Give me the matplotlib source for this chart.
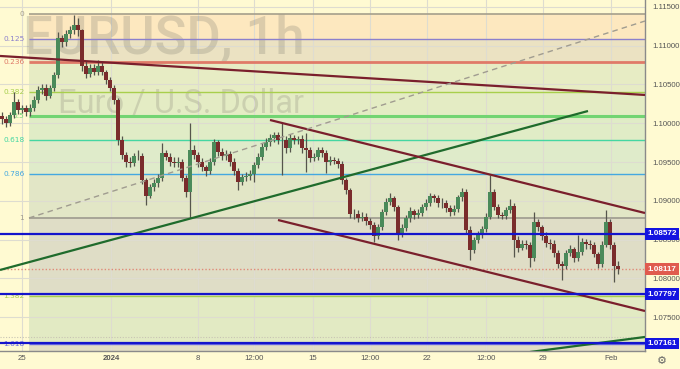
import numpy as np
import matplotlib
matplotlib.use("Agg")
import matplotlib.pyplot as plt

# EURUSD hourly (one bar here ~ 4 hours)
closes = [1.10055, 1.10003, 1.10106, 1.10274, 1.10171, 1.10197, 1.10145, 1.10197, 1.10300, 1.10429,
          1.10455, 1.10352, 1.10455, 1.10623, 1.11100, 1.11048, 1.11151, 1.11203, 1.11268, 1.11203,
          1.10739, 1.10636, 1.10713, 1.10661, 1.10739, 1.10661, 1.10558, 1.10455, 1.10300, 1.09784,
          1.09590, 1.09500, 1.09487, 1.09578, 1.09578, 1.09268, 1.09062, 1.09178, 1.09229, 1.09294,
          1.09616, 1.09565, 1.09500, 1.09487, 1.09500, 1.09294, 1.09113, 1.09655, 1.09590, 1.09500,
          1.09436, 1.09384, 1.09500, 1.09758, 1.09629, 1.09578, 1.09603, 1.09500, 1.09384, 1.09242,
          1.09307, 1.09320, 1.09345, 1.09462, 1.09565, 1.09694, 1.09758, 1.09810, 1.09849, 1.09784,
          1.09784, 1.09681, 1.09810, 1.09784, 1.09797, 1.09681, 1.09655, 1.09552, 1.09565, 1.09655,
          1.09616, 1.09500, 1.09526, 1.09513, 1.09474, 1.09268, 1.09139, 1.08829, 1.08829, 1.08778,
          1.08791, 1.08739, 1.08688, 1.08546, 1.08662, 1.08855, 1.08984, 1.09036, 1.08920, 1.08571,
          1.08649, 1.08778, 1.08868, 1.08817, 1.08842, 1.08920, 1.08972, 1.09062, 1.09036, 1.08972,
          1.08972, 1.08907, 1.08855, 1.08894, 1.09049, 1.09113, 1.08620, 1.08365, 1.08494, 1.08571,
          1.08636, 1.08791, 1.09113, 1.08920, 1.08817, 1.08804, 1.08881, 1.08933, 1.08494, 1.08391,
          1.08442, 1.08429, 1.08262, 1.08726, 1.08662, 1.08546, 1.08455, 1.08442, 1.08326, 1.08184,
          1.08159, 1.08326, 1.08378, 1.08262, 1.08339, 1.08468, 1.08442, 1.08429, 1.08313, 1.08184,
          1.08429, 1.08726, 1.08429, 1.08159, 1.08117]
highs = [1.1015, 1.1010, 1.1015, 1.1040, 1.1031, 1.1024, 1.1024, 1.1025, 1.1035, 1.1048,
         1.1050, 1.1050, 1.1049, 1.1066, 1.1118, 1.1114, 1.1120, 1.1126, 1.1140, 1.1136,
         1.1122, 1.1080, 1.1076, 1.1077, 1.1082, 1.1080, 1.1069, 1.1060, 1.1049, 1.1033,
         1.0984, 1.0963, 1.0956, 1.0962, 1.0966, 1.0961, 1.0930, 1.0922, 1.0928, 1.0934,
         1.0975, 1.0966, 1.0961, 1.0956, 1.0957, 1.0954, 1.0933, 1.1000, 1.0972, 1.0963,
         1.0955, 1.0946, 1.0955, 1.0980, 1.0978, 1.0968, 1.0966, 1.0964, 1.0955, 1.0942,
         1.0935, 1.0937, 1.0940, 1.0950, 1.0961, 1.0974, 1.0981, 1.0986, 1.0989, 1.0989,
         1.1000, 1.0983, 1.0986, 1.0985, 1.0984, 1.0985, 1.0987, 1.0970, 1.0962, 1.0970,
         1.0969, 1.0966, 1.0958, 1.0957, 1.0955, 1.0951, 1.0930, 1.0917, 1.0890, 1.0888,
         1.0885, 1.0884, 1.0878, 1.0872, 1.0870, 1.0890, 1.0903, 1.0910, 1.0906, 1.0894,
         1.0870, 1.0882, 1.0892, 1.0890, 1.0889, 1.0896, 1.0902, 1.0910, 1.0909, 1.0907,
         1.0903, 1.0901, 1.0894, 1.0894, 1.0908, 1.0917, 1.0915, 1.0867, 1.0853, 1.0861,
         1.0868, 1.0884, 1.0933, 1.0915, 1.0896, 1.0886, 1.0892, 1.0902, 1.0897, 1.0855,
         1.0850, 1.0850, 1.0847, 1.0886, 1.0877, 1.0869, 1.0860, 1.0851, 1.0849, 1.0836,
         1.0822, 1.0837, 1.0843, 1.0840, 1.0856, 1.0852, 1.0851, 1.0850, 1.0847, 1.0834,
         1.0848, 1.0888, 1.0876, 1.0847, 1.0822]
lows = [1.0999, 1.0995, 1.0996, 1.1007, 1.1012, 1.1013, 1.1009, 1.1010, 1.1016, 1.1026,
        1.1038, 1.1030, 1.1032, 1.1042, 1.1058, 1.1099, 1.1100, 1.1110, 1.1115, 1.1112,
        1.1068, 1.1058, 1.1060, 1.1062, 1.1062, 1.1062, 1.1051, 1.1041, 1.1025, 1.0972,
        1.0954, 1.0944, 1.0943, 1.0945, 1.0952, 1.0921, 1.0895, 1.0903, 1.0913, 1.0918,
        1.0926, 1.0952, 1.0945, 1.0943, 1.0944, 1.0925, 1.0905, 1.0878, 1.0954, 1.0944,
        1.0938, 1.0932, 1.0934, 1.0946, 1.0958, 1.0952, 1.0953, 1.0945, 1.0933, 1.0914,
        1.0920, 1.0926, 1.0927, 1.0924, 1.0942, 1.0952, 1.0965, 1.0971, 1.0976, 1.0973,
        1.0933, 1.0962, 1.0963, 1.0973, 1.0973, 1.0962, 1.0937, 1.0950, 1.0951, 1.0952,
        1.0957, 1.0936, 1.0946, 1.0947, 1.0942, 1.0922, 1.0909, 1.0878, 1.0877, 1.0872,
        1.0874, 1.0869, 1.0864, 1.0847, 1.0851, 1.0862, 1.0882, 1.0895, 1.0887, 1.0849,
        1.0853, 1.0861, 1.0873, 1.0877, 1.0878, 1.0880, 1.0888, 1.0893, 1.0898, 1.0892,
        1.0891, 1.0886, 1.0880, 1.0881, 1.0886, 1.0900, 1.0857, 1.0824, 1.0833, 1.0845,
        1.0852, 1.0860, 1.0876, 1.0888, 1.0878, 1.0876, 1.0877, 1.0884, 1.0828, 1.0834,
        1.0836, 1.0838, 1.0815, 1.0822, 1.0861, 1.0850, 1.0841, 1.0838, 1.0828, 1.0813,
        1.0798, 1.0812, 1.0829, 1.0821, 1.0822, 1.0830, 1.0838, 1.0838, 1.0827, 1.0813,
        1.0814, 1.0840, 1.0838, 1.0795, 1.0806]
first_open = 1.1010
opens = [first_open] + closes[:-1]

date_ticks = [5, 27.25, 49, 63, 77.75, 92, 106.25, 121, 135.25, 152.25]
date_labels = ['25', '2024', '8', '12:00', '15', '12:00', '22', '12:00', '29', 'Feb']
price_ticks = [1.075, 1.080, 1.085, 1.090, 1.095, 1.100, 1.105, 1.110, 1.115]

# fibonacci retracement
fib_top = 1.1141
fib_bottom = 1.0878
fib_ratios = [0, 0.125, 0.236, 0.382, 0.5, 0.618, 0.786, 1, 1.382, 1.618]
fib_labels = ['0', '0.125', '0.236', '0.382', '0.5', '0.618', '0.786', '1', '1.382', '1.618']
fib_colors = ['#a59f8c', '#8c80cc', '#e07a68', '#a8cf4c', '#72d472', '#44d6a2',
              '#44a8e0', '#9d9a8e', '#a8cf4c', '#6a6ae0']
fib_widths = [1.2, 1, 2, 1, 2.2, 1, 1, 1.2, 1, 1]
zone_colors = ['#fde8bf', '#ebe2c2', '#e7ecc4', '#e4ecc4', '#e0ecc6', '#dfebca',
               '#e2e6c6', '#dfddc6', '#e2eac3']
fib_start = 6.75

# horizontal levels and current price
levels = [1.08572, 1.07797, 1.07161]
last_price = 1.08117

# trend lines (bar, price) pairs
trend_lines = [
    ((-0.5, 1.10868), (160.75, 1.10365), '#7a1f2c', 1.6, '-'),
    ((-0.5, 1.08107), (146.5, 1.10158), '#1f6b2c', 1.6, '-'),
    ((67, 1.10042), (160.75, 1.08842), '#7a1f2c', 1.6, '-'),
    ((69, 1.08752), (160.75, 1.07578), '#7a1f2c', 1.6, '-'),
    ((132, 1.07049), (160.75, 1.07243), '#1f6b2c', 1.6, '-'),
    ((6.75, 1.08778), (160.75, 1.11319), '#a09c90', 1.0, (0, (4, 3))),
]

axis_font = 'Liberation Sans'

fig = plt.figure(figsize=(6.8, 3.69), dpi=100)
fig.patch.set_facecolor('#fffad2')
ax = fig.add_axes([0, 1 - 351 / 369, 645 / 680, 351 / 369])
ax.set_facecolor('#fffad2')
x0, x1 = -0.5, 160.75
ax.set_xlim(x0, x1)
ax.set_ylim(1.07062, 1.11590)

# fib zones and lines
fib_prices = [fib_top - r * (fib_top - fib_bottom) for r in fib_ratios]
for i in range(len(fib_prices) - 1):
    ax.fill_between([fib_start, x1], fib_prices[i + 1], fib_prices[i],
                    color=zone_colors[i], lw=0, zorder=0.5)
ax.fill_between([fib_start, x1], ax.get_ylim()[0], fib_prices[-1],
                color='#e2ddc4', lw=0, zorder=0.5)

for p in price_ticks:
    ax.axhline(p, color='#dedcd0', lw=0.8, zorder=1)
for t in date_ticks:
    ax.axvline(t, color='#dedcd0', lw=0.8, zorder=1)

for p, lab, c, w in zip(fib_prices, fib_labels, fib_colors, fib_widths):
    ax.hlines(p, fib_start, x1, color=c, lw=w, zorder=1.5)
    ax.text(5.6, p, lab, color=c, fontsize=5.3, ha='right', va='center', zorder=1.6)

# watermark
ax.text(0.036, 0.962, 'EURUSD, 1h', transform=ax.transAxes, fontsize=38,
        family='Roboto', fontweight='medium', color='#7d7a70', alpha=0.26,
        ha='left', va='top', zorder=1.2)
ax.text(0.09, 0.748, 'Euro / U.S. Dollar', transform=ax.transAxes, fontsize=23.5,
        family='Roboto', color='#7d7a70', alpha=0.24, ha='left', va='top', zorder=1.2)

ax.axhline(last_price, color='#e08a78', lw=1, ls=(0, (1, 1.5)), zorder=1.8)
ax.axhline(1.07243, color='#c8c4b4', lw=0.8, ls=(0, (1, 1.5)), zorder=1.8)

# candles
bars = np.arange(len(closes))
o = np.array(opens)
c = np.array(closes)
up = c >= o
body_colors = np.where(up, '#4a8a5a', '#7a2c2c')
ax.vlines(bars, lows, highs, color='#55554c', lw=0.9, zorder=3)
ax.bar(bars, np.maximum(np.abs(c - o), 0.00004), bottom=np.minimum(o, c), width=0.85,
       color=body_colors, lw=0, zorder=3.1)

for (xa, pa), (xb, pb), col, lw, ls in trend_lines:
    ax.plot([xa, xb], [pa, pb], color=col, lw=lw, ls=ls, zorder=4, solid_capstyle='butt')

for p in levels:
    ax.axhline(p, color='#1414cc', lw=1.6, zorder=4.5)

# axes styling
ax.yaxis.tick_right()
ax.set_yticks(price_ticks)
ax.set_yticklabels([f'{p:.5f}' for p in price_ticks], family=axis_font)
ax.set_xticks(date_ticks)
ax.set_xticklabels(date_labels, family=axis_font)
for lab in ax.get_xticklabels():
    if lab.get_text() == '2024':
        lab.set_fontweight('bold')
ax.tick_params(axis='both', length=0, labelsize=5.6, colors='#555555')
ax.tick_params(axis='y', pad=5)
ax.tick_params(axis='x', pad=3)
for s in ['top', 'left']:
    ax.spines[s].set_visible(False)
for s in ['right', 'bottom']:
    ax.spines[s].set_color('#8a8a8a')
    ax.spines[s].set_linewidth(1)
ax.grid(False)

# price boxes on the right scale
for p in levels:
    ax.text(1.004, p, f'{p:.5f}', transform=ax.get_yaxis_transform(), fontsize=5.9,
            family=axis_font, fontweight='bold', color='white', va='center', ha='left',
            zorder=10, clip_on=False,
            bbox=dict(boxstyle='square,pad=0.28', fc='#1414e0', ec='none'))
ax.text(1.004, last_price, f'{last_price:.5f}', transform=ax.get_yaxis_transform(),
        fontsize=5.9, family=axis_font, fontweight='bold', color='white', va='center',
        ha='left', zorder=10, clip_on=False,
        bbox=dict(boxstyle='square,pad=0.28', fc='#e05a4e', ec='none'))

fig.text(662 / 680, 1 - 361 / 369, '\u2699', fontsize=8, color='#666666',
         ha='center', va='center')

fig.savefig('out.png', dpi=100, facecolor=fig.get_facecolor())
